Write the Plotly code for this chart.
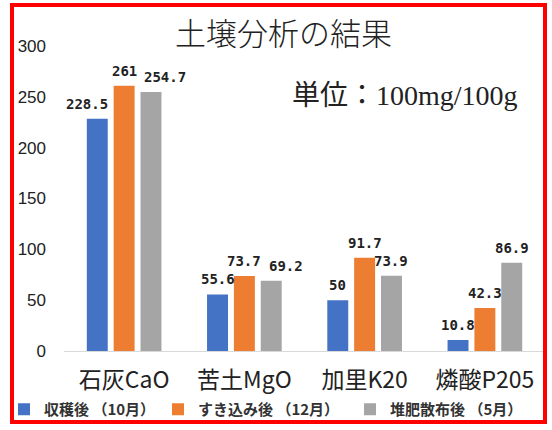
import plotly.graph_objects as go

cat_labels = ["石灰CaO", "苦土MgO", "加里K20", "燐酸P205"]
series_names = ["収穫後 （10月）", "すき込み後 （12月）", "堆肥散布後 （5月）"]
harvest = [228.5, 55.6, 50, 10.8]
plowed = [261, 73.7, 91.7, 42.3]
compost = [254.7, 69.2, 73.9, 86.9]
y_ticks = [0, 50, 100, 150, 200, 250, 300]

# styling
colors = ["#4472C4", "#ED7D31", "#A5A5A5"]
legend_widths = [109, 147, 150]
# small horizontal nudges (px) Excel applied to avoid label collisions
label_nudge = {(0, 0): -10, (2, 0): 14, (2, 1): 15}

W, H = 552, 430
L, R, T, B = 64, 7, 46, 79
pw, ph = W - L - R, H - T - B
BARGAP = 0.33

def px_x(x):
    return (x - L) / pw

def px_y(y):
    return (H - B - y) / ph

series = [harvest, plowed, compost]
fig = go.Figure()
for name, vals, col, lw in zip(series_names, series, colors, legend_widths):
    fig.add_trace(go.Bar(
        x=cat_labels, y=vals, name=name,
        marker=dict(color=col, line=dict(width=0)),
        legendwidth=lw,
    ))

cat_w = pw / len(cat_labels)
slot = cat_w * (1 - BARGAP) / len(series)
annotations = []
for i, vals in enumerate(series):
    for j, v in enumerate(vals):
        annotations.append(dict(
            x=cat_labels[j], y=v, xref="x", yref="y", text=f"{v:g}",
            showarrow=False, xanchor="center", yanchor="middle",
            xshift=(i - 1) * slot + label_nudge.get((i, j), 0), yshift=15,
            font=dict(family="DejaVu Sans Mono", size=14, color="#222", weight="bold"),
        ))

annotations += [
    dict(text="土壌分析の結果", x=px_x(283), y=px_y(34), xref="paper", yref="paper",
         showarrow=False, xanchor="center", yanchor="middle",
         font=dict(family="Liberation Serif, Noto Sans CJK JP", size=31, color="#222", weight=300)),
    dict(text="単位：100mg/100g", x=px_x(290), y=px_y(95), xref="paper", yref="paper",
         showarrow=False, xanchor="left", yanchor="middle",
         font=dict(family="Liberation Serif, Noto Sans CJK JP", size=28, color="#222")),
]

fig.update_layout(
    width=W, height=H,
    margin=dict(l=L, r=R, t=T, b=B, autoexpand=False),
    paper_bgcolor="white", plot_bgcolor="white",
    barmode="group", bargap=BARGAP, bargroupgap=0.22,
    showlegend=True,
    legend=dict(orientation="h", x=px_x(4), y=px_y(393), xanchor="left", yanchor="top",
                bgcolor="rgba(0,0,0,0)",
                font=dict(family="Noto Sans CJK JP", size=15, color="#333", weight="bold"),
                itemwidth=30, tracegroupgap=0),
    xaxis=dict(showline=True, linecolor="#D9D9D9", linewidth=1, ticks="",
               ticklabelstandoff=8,
               tickfont=dict(family="Noto Sans CJK JP", size=23, color="#222")),
    yaxis=dict(range=[0, 300], tickvals=y_ticks, showgrid=False, zeroline=False,
               showline=False, ticks="", ticklabelstandoff=17,
               tickfont=dict(family="Liberation Sans", size=17, color="#222")),
    annotations=annotations,
    shapes=[dict(type="rect", xref="paper", yref="paper",
                 x0=px_x(12), x1=px_x(545), y0=px_y(422), y1=px_y(5),
                 line=dict(color="#FF0000", width=4), fillcolor="rgba(0,0,0,0)")],
)

fig.write_html("out.html", config={"displayModeBar": False},
               post_script="document.body.style.margin='0';document.body.style.overflow='hidden';")
